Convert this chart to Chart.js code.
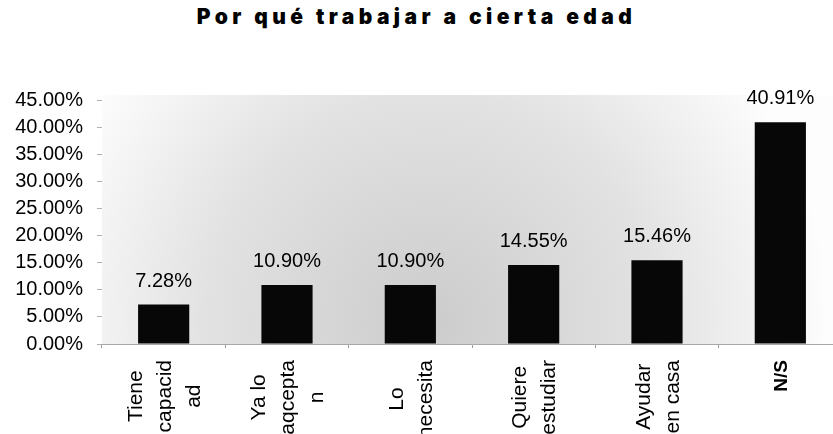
<!DOCTYPE html>
<html>
<head>
<meta charset="utf-8">
<script src="https://cdn.jsdelivr.net/npm/chart.js@4"></script>
<style>
  html, body { margin: 0; padding: 0; background: #fff; overflow: hidden; width: 833px; height: 434px; }
  #title { position: absolute; left: 0; top: 4px; width: 833px; text-align: center;
           font-family: "Inter", "DejaVu Sans", sans-serif; font-weight: 900; font-size: 21px;
           letter-spacing: 4.4px; color: #000; line-height: 26px; white-space: nowrap; }
  #wrap { position: absolute; left: 0; top: 0; width: 845px; height: 434px; }
</style>
</head>
<body>
<div id="title">Por qué trabajar a cierta edad</div>
<div id="wrap"><canvas id="c" width="845" height="434"></canvas></div>
<script>
const categories = [
  ["Tiene", "capacid", "ad"],
  ["Ya lo", "aqcepta", "n"],
  ["Lo", "necesita"],
  ["Quiere", "estudiar"],
  ["Ayudar", "en casa"],
  ["N/S"]
];
const values = [7.28, 10.90, 10.90, 14.55, 15.46, 40.91];
const yTicks = [0, 5, 10, 15, 20, 25, 30, 35, 40, 45];

const bgPlugin = {
  id: 'bg',
  beforeDraw(chart) {
    const { ctx, chartArea: a } = chart;
    ctx.save();
    const g = ctx.createRadialGradient(430, 320, 10, 430, 320, 400);
    g.addColorStop(0, 'rgb(205,205,205)');
    g.addColorStop(0.55, 'rgb(226,226,226)');
    g.addColorStop(1, 'rgb(253,253,253)');
    ctx.fillStyle = g;
    ctx.fillRect(a.left, a.top - 5, a.right - a.left, a.bottom - a.top + 5);
    ctx.restore();
  }
};

const labelPlugin = {
  id: 'labels',
  afterDraw(chart) {
    const { ctx, chartArea: a } = chart;
    const meta = chart.getDatasetMeta(0);
    const xs = chart.scales.x;
    ctx.save();
    ctx.fillStyle = '#000';
    // value labels
    ctx.font = '20px "Liberation Sans", Arial, sans-serif';
    ctx.textAlign = 'center';
    ctx.textBaseline = 'alphabetic';
    meta.data.forEach((bar, i) => {
      ctx.fillText(values[i].toFixed(2) + '%', bar.x, bar.y - 18);
    });
    // category labels, rotated
    categories.forEach((lines, i) => {
      const cx = xs.getPixelForValue(i);
      const bold = lines.length === 1;
      ctx.font = (bold ? 'bold 19px ' : '21px ') + '"Liberation Sans", Arial, sans-serif';
      const blockW = Math.max(...lines.map(l => ctx.measureText(l).width));
      const cy = a.bottom + 16 + blockW / 2;
      const n = lines.length;
      lines.forEach((line, j) => {
        const bx = cx + (j - (n - 1) / 2) * 29 + 7;
        ctx.save();
        ctx.translate(bx, cy);
        ctx.rotate(-Math.PI / 2);
        ctx.textAlign = 'center';
        ctx.textBaseline = 'alphabetic';
        ctx.fillText(line, 0, 0);
        ctx.restore();
      });
    });
    ctx.restore();
  }
};

new Chart(document.getElementById('c'), {
  type: 'bar',
  data: {
    labels: categories,
    datasets: [{
      data: values,
      backgroundColor: '#070707',
      borderWidth: 0,
      categoryPercentage: 1,
      barPercentage: 0.415
    }]
  },
  options: {
    responsive: false,
    animation: false,
    devicePixelRatio: 1,
    layout: { padding: { top: 100, right: 3, left: 0, bottom: 0 } },
    plugins: { legend: { display: false }, title: { display: false }, tooltip: { enabled: false } },
    scales: {
      x: {
        ticks: { display: false },
        grid: { display: true, drawOnChartArea: false, drawTicks: true, tickLength: 4, color: '#9a9a9a', offset: true },
        border: { display: true, color: '#a8a8a8', width: 1 },
        afterFit(s) { s.height = 90; }
      },
      y: {
        min: 0, max: 45,
        afterBuildTicks(s) { s.ticks = yTicks.map(v => ({ value: v })); },
        ticks: {
          padding: 14,
          color: '#000',
          font: { family: '"Liberation Sans", Arial, sans-serif', size: 20 },
          callback: v => v.toFixed(2) + '%'
        },
        grid: { display: true, drawOnChartArea: false, drawTicks: true, tickLength: 5, color: '#b0b0b0' },
        border: { display: false },
        afterFit(s) { s.width = 102; }
      }
    }
  },
  plugins: [bgPlugin, labelPlugin]
});
</script>
</body>
</html>
